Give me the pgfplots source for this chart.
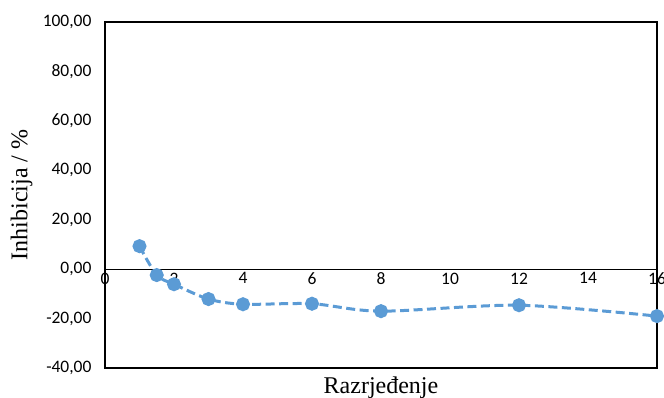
\documentclass[border=0pt]{standalone}
\usepackage{fontspec}
\setmainfont{Liberation Serif}
\newfontfamily\calibri{Carlito}
\usepackage{pgfplots}
\pgfplotsset{compat=1.18}
\definecolor{exblue}{HTML}{5B9BD5}
\begin{document}
\begin{tikzpicture}
\begin{axis}[
  name=ax,
  scale only axis,
  width=552pt, height=346pt,
  xmin=0, xmax=16, ymin=-40, ymax=100,
  xtick={0,2,...,16},
  ytick={-40,-20,...,100},
  major tick length=0pt,
  axis line style={black, line width=1.2pt},
  /pgf/number format/assume math mode=true,
  tick label style={font=\calibri\fontsize{17.5}{20}\selectfont, text=black},
  yticklabel style={/pgf/number format/.cd, fixed, fixed zerofill, precision=2, use comma, /tikz/.cd, xshift=-10pt},
  xticklabel style={yshift=98.86pt, /pgf/number format/.cd, fixed, precision=0},
  xlabel={Razrjeđenje},
  ylabel={Inhibicija / \%},
  label style={font=\fontsize{24}{28}\selectfont},
  xlabel style={at={(rel axis cs:0.5,0)}, anchor=north, yshift=-5pt},
  ylabel style={at={(rel axis cs:0,0.5)}, anchor=south, yshift=69pt},
  clip=false,
]
\draw[black, line width=0.8pt] (axis cs:0,0) -- (axis cs:16,0);
\addplot[exblue, line width=3pt, dash pattern=on 9pt off 4.5pt, smooth, tension=0.5,
  mark=*, mark size=5.5pt, mark options={solid, fill=exblue, draw=exblue}]
  coordinates {
  (1,9.3) (1.5,-2.4) (2,-6.1) (3,-12.1) (4,-14.2) (6,-14.0) (8,-17.0) (12,-14.6) (16,-19.0)
  };
\end{axis}
\pgfresetboundingbox
\path[use as bounding box] ([shift={(-105pt,-29pt)}]ax.south west) rectangle ([shift={(7pt,22pt)}]ax.north east);
\end{tikzpicture}
\end{document}
